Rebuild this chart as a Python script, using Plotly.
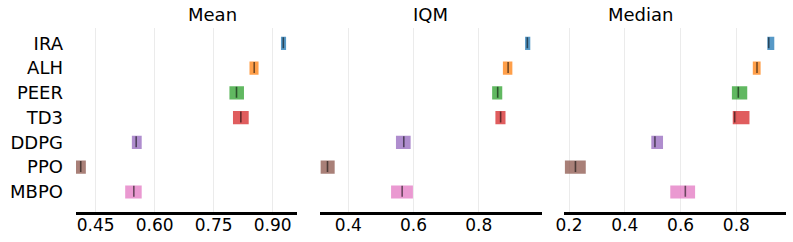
import plotly.graph_objects as go
from plotly.subplots import make_subplots

algorithms = ["IRA", "ALH", "PEER", "TD3", "DDPG", "PPO", "MBPO"]
colors = ["#1f77b4", "#ff7f0e", "#2ca02c", "#d62728", "#9467bd", "#8c564b", "#e377c2"]
metrics = ["Mean", "IQM", "Median"]

mean_point = [0.927, 0.853, 0.808, 0.819, 0.553, 0.412, 0.547]
mean_low = [0.921, 0.841, 0.790, 0.799, 0.542, 0.400, 0.525]
mean_high = [0.934, 0.864, 0.827, 0.839, 0.567, 0.425, 0.567]

iqm_point = [0.949, 0.890, 0.858, 0.867, 0.570, 0.336, 0.565]
iqm_low = [0.942, 0.874, 0.841, 0.851, 0.546, 0.315, 0.531]
iqm_high = [0.958, 0.903, 0.872, 0.882, 0.591, 0.358, 0.598]

median_point = [0.916, 0.874, 0.807, 0.794, 0.508, 0.223, 0.617]
median_low = [0.911, 0.859, 0.784, 0.787, 0.495, 0.185, 0.563]
median_high = [0.936, 0.887, 0.839, 0.847, 0.537, 0.260, 0.652]

mean_ticks = [0.45, 0.60, 0.75, 0.90]
mean_ticktext = ["0.45", "0.60", "0.75", "0.90"]
iqm_ticks = [0.4, 0.6, 0.8]
iqm_ticktext = ["0.4", "0.6", "0.8"]
median_ticks = [0.2, 0.4, 0.6, 0.8]
median_ticktext = ["0.2", "0.4", "0.6", "0.8"]

data = [
    (mean_point, mean_low, mean_high, mean_ticks, mean_ticktext, [0.400, 0.961]),
    (iqm_point, iqm_low, iqm_high, iqm_ticks, iqm_ticktext, [0.313, 0.993]),
    (median_point, median_low, median_high, median_ticks, median_ticktext, [0.183, 0.978]),
]

W, H = 793, 242
fig = make_subplots(rows=1, cols=3, shared_yaxes=True)
bar_h = 0.53
font = "DejaVu Sans"

for c, (pt, lo, hi, tv, tt, rng) in enumerate(data, start=1):
    for i, alg in enumerate(algorithms):
        fig.add_trace(go.Bar(
            x=[hi[i] - lo[i]], base=[lo[i]], y=[i], orientation="h",
            width=bar_h, marker=dict(color=colors[i], opacity=0.75,
                                     line=dict(width=0)),
            showlegend=False, hoverinfo="skip"), row=1, col=c)
        fig.add_trace(go.Scatter(
            x=[pt[i], pt[i]], y=[i - 7.5 * bar_h / 16, i + 6 * bar_h / 16],
            mode="lines", line=dict(color="rgba(0,0,0,0.55)", width=1.6),
            showlegend=False, hoverinfo="skip"), row=1, col=c)
    fig.update_xaxes(range=rng, tickvals=tv, ticktext=tt, showgrid=True,
                     gridcolor="#ebebeb", gridwidth=1, zeroline=False,
                     showline=True, linecolor="black", linewidth=2.5,
                     ticks="", ticklen=0, ticklabelstandoff=-4, automargin=False,
                     tickfont=dict(family=font, size=17, color="black"),
                     row=1, col=c)

domains = [[76 / W, 296.7 / W], [320 / W, 541.7 / W], [564.3 / W, 786 / W]]
for k, d in enumerate(domains, start=1):
    fig.layout["xaxis" + ("" if k == 1 else str(k))].domain = d

fig.update_yaxes(range=[6.81, -0.62], tickvals=list(range(len(algorithms))),
                 ticktext=algorithms, showgrid=False, zeroline=False,
                 showline=False, ticks="", ticklabelstandoff=12, automargin=False,
                 tickfont=dict(family=font, size=18, color="black"))

for k, m in enumerate(metrics):
    d = domains[k]
    fig.add_annotation(text=m, x=(d[0] + d[1]) / 2, y=1.0, xref="paper",
                       yref="paper", yanchor="bottom", yshift=1, showarrow=False,
                       font=dict(family=font, size=18, color="black"))

fig.update_layout(width=W, height=H, margin=dict(l=0, r=0, t=28, b=30),
                  plot_bgcolor="white", paper_bgcolor="white", barmode="overlay")
fig.write_html("out.html", config={"displayModeBar": False},
               post_script="document.body.style.margin='0';document.body.style.overflow='hidden';")
